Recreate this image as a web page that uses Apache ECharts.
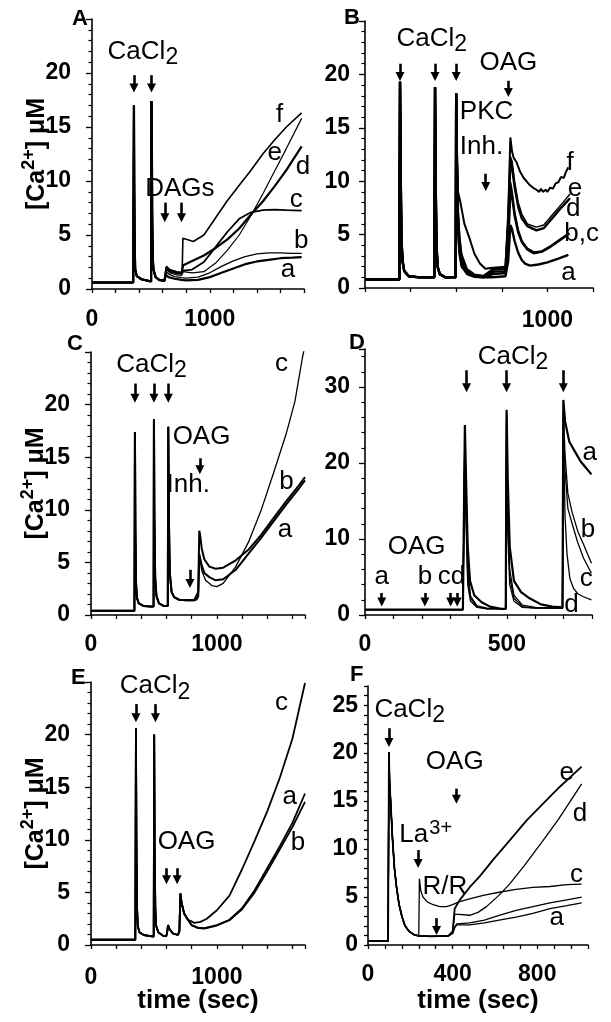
<!DOCTYPE html>
<html><head><meta charset="utf-8">
<script src="https://cdn.jsdelivr.net/npm/echarts@6/dist/echarts.min.js"></script>
<style>html,body{margin:0;padding:0;background:#fff;}#c{width:611px;height:1022px;}</style>
</head><body><div id="c"></div>
<script>
const FONT = '"Liberation Sans", Arial, Helvetica, sans-serif';

// ---------- Panel A ----------
const xLabelsA = [0, 1000];
const yLabelsA = [0, 5, 10, 15, 20];
const prefixA = [[0,0.6],[350,0.6],[354,0.7],[356,17.0],[359,9.0],[362,4.0],[367,1.8],[380,1.2],[420,0.9],[480,0.75],[502,0.7],[505,17.4],[508,14.0],[511,7.0],[515,3.0],[522,1.8],[540,1.1],[570,0.85],[615,0.75]];
const A_a = [[628,1.3],[650,1.1],[700,0.95],[760,0.85],[800,0.8],[900,0.85],[1000,1.1],[1100,1.5],[1200,1.9],[1300,2.3],[1400,2.55],[1500,2.7],[1600,2.85],[1700,2.9],[1780,2.95]];
const A_b = [[630,1.6],[650,1.4],[700,1.15],[760,1.05],[800,1.0],[900,1.1],[1000,1.5],[1100,2.1],[1200,2.6],[1300,3.0],[1400,3.25],[1500,3.35],[1600,3.35],[1700,3.3],[1780,3.3]];
const A_c = [[632,1.9],[660,1.6],[720,1.45],[760,1.4],[775,1.7],[850,1.8],[950,2.5],[1050,3.9],[1150,5.3],[1250,6.5],[1350,7.1],[1450,7.3],[1550,7.35],[1650,7.3],[1780,7.25]];
const A_d = [[632,2.0],[660,1.7],[720,1.55],[760,1.5],[775,2.2],[850,2.6],[950,3.1],[1050,3.8],[1150,4.6],[1250,5.6],[1350,6.9],[1450,8.1],[1550,9.5],[1650,11.0],[1780,13.2]];
const A_e = [[632,1.8],[660,1.5],[720,1.3],[760,1.25],[775,1.6],[850,1.5],[950,1.6],[1050,2.4],[1150,3.6],[1250,5.0],[1350,6.8],[1450,8.8],[1550,10.9],[1650,13.0],[1780,15.8]];
const A_f = [[632,2.1],[660,1.8],[720,1.6],[765,1.5],[772,4.7],[800,4.6],[860,4.4],[950,5.0],[1050,6.6],[1150,8.2],[1250,9.6],[1350,11.0],[1450,12.5],[1550,13.8],[1650,15.0],[1780,16.3]];
const textsA = [['CaCl{sub|2}',432,22.0],['DAGs',746,9.3],['f',1593,16.1],['e',1551,12.6],['d',1791,11.3],['c',1734,8.3],['b',1777,4.5],['a',1664,1.8]];
const arrowsA = [[356,19.8,18.6],[505,19.8,18.6],[618,8.0,6.6],[760,8.0,6.6]];

// ---------- Panel B ----------
const xLabelsB = [1000];
const yLabelsB = [0, 5, 10, 15, 20];
const prefixB = [[0,0.8],[188,0.8],[192,19.3],[196,10.0],[200,4.5],[206,2.5],[215,1.6],[240,1.1],[300,1.0],[380,1.0],[384,18.8],[388,9.0],[392,4.0],[398,2.0],[410,1.3],[440,1.0],[497,1.0],[500,18.2],[504,12.0]];
const B_a = [[510,5.5],[518,3.2],[530,2.0],[560,1.3],[600,1.05],[650,1.0],[700,1.0],[770,1.1],[785,2.5],[797,5.9],[806,5.5],[820,4.4],[840,3.3],[860,2.6],[880,2.25],[905,2.1],[950,2.2],[1000,2.4],[1060,2.75],[1115,3.1]];
const B_b = [[510,6.0],[518,3.5],[530,2.2],[560,1.4],[600,1.1],[650,1.0],[700,1.3],[770,1.4],[785,4.0],[797,9.3],[806,8.6],[820,6.8],[840,5.2],[860,4.3],[890,3.6],[925,3.25],[970,3.4],[1020,3.9],[1070,4.5],[1120,5.1]];
const B_c = [[510,6.5],[518,4.0],[530,2.5],[560,1.5],[600,1.2],[650,1.1],[700,1.5],[770,1.6],[785,4.5],[797,9.9],[806,9.0],[820,7.1],[840,5.4],[860,4.4],[890,3.7],[925,3.35],[970,3.45],[1020,3.95],[1070,4.55],[1120,5.15]];
const B_d = [[510,7.0],[518,4.5],[530,2.8],[560,1.6],[600,1.2],[650,1.1],[700,1.7],[770,1.8],[785,6.0],[797,12.0],[806,11.3],[820,9.5],[840,7.6],[860,6.5],[890,5.8],[940,5.4],[980,5.6],[1030,6.6],[1080,7.6],[1124,8.4]];
const B_e = [[510,7.5],[518,5.0],[530,3.2],[560,1.8],[600,1.3],[650,1.15],[700,1.8],[770,1.9],[785,6.5],[797,12.3],[806,11.9],[820,10.0],[840,8.0],[860,6.9],[890,6.0],[940,5.7],[980,5.9],[1030,6.9],[1080,7.9],[1124,8.8]];
const B_f = [[510,9.0],[521,8.2],[545,6.0],[576,4.5],[600,3.2],[630,2.3],[660,1.8],[700,1.9],[770,2.0],[785,7.0],[797,14.1],[806,12.8],[815,12.2],[830,11.8],[850,10.9],[870,10.3],[900,9.7],[920,9.4],[940,9.2],[955,9.0],[965,9.3],[975,9.0],[990,9.2],[1000,9.0],[1015,9.4],[1030,9.3],[1045,9.8],[1060,9.9],[1075,10.4],[1090,10.3],[1100,10.8],[1115,11.3]];
const textsB = [['CaCl{sub|2}',366,23.3],['OAG',786,21.1],['PKC\nInh.',517,14.9,'left'],['f',1124,11.7],['e',1151,9.3],['d',1142,7.4],['b,c',1188,5.1],['a',1115,1.4]];
const arrowsB = [[192,21.0,19.8],[384,21.0,19.8],[500,21.0,19.8],[786,19.4,18.3],[662,10.7,9.5]];

// ---------- Panel C ----------
const xLabelsC = [0, 1000];
const yLabelsC = [0, 5, 10, 15, 20];
const prefixC = [[0,0.4],[345,0.4],[349,17.4],[353,8.0],[358,3.0],[365,1.6],[380,1.1],[420,0.85],[470,0.8],[497,0.8],[500,18.6],[504,9.0],[510,3.5],[520,1.8],[540,1.1],[580,0.85],[610,0.85],[614,17.9],[619,9.0],[626,4.0],[640,2.2],[660,1.7],[700,1.45],[760,1.4],[820,1.4]];
const C_a = [[840,1.5],[852,1.8],[860,5.8],[866,5.9],[878,4.8],[900,4.0],[940,3.6],[990,3.3],[1050,3.4],[1150,4.3],[1250,5.8],[1350,7.3],[1450,8.9],[1550,10.5],[1650,12.0],[1700,12.8]];
const C_b = [[840,1.9],[852,2.2],[860,8.0],[866,7.7],[880,6.3],[900,5.3],[940,4.6],[990,4.4],[1050,4.5],[1150,5.2],[1250,6.2],[1350,7.6],[1450,9.2],[1550,10.8],[1650,12.3],[1700,13.1]];
const C_c = [[840,1.6],[852,2.0],[860,5.5],[868,5.2],[880,4.2],[910,3.3],[960,2.8],[1000,2.7],[1050,3.0],[1150,4.6],[1250,6.9],[1350,9.9],[1450,13.5],[1550,17.2],[1620,20.3],[1680,24.5],[1700,25.6]];
const textsC = [['CaCl{sub|2}',481,23.8],['OAG',878,16.9],['Inh.',772,12.4],['c',1513,23.9],['b',1553,12.7],['a',1540,8.1]];
const arrowsC = [[349,22.0,20.6],[500,22.0,20.6],[614,22.0,20.6],[865,14.9,13.8],[786,4.3,3.0]];

// ---------- Panel D ----------
const xLabelsD = [0, 500];
const yLabelsD = [0, 10, 20, 30];
const prefixD = [[0,0.7],[345,0.7],[348,0.8]];
const D_a = [[352,25.0],[356,18.0],[362,9.0],[370,4.5],[385,2.6],[410,1.7],[440,1.1],[480,0.8],[496,0.8],[499,27.0],[503,18.0],[510,9.0],[525,4.5],[550,3.0],[580,2.2],[620,1.4],[660,1.1],[696,1.0],[699,28.3],[705,25.5],[720,22.8],[740,21.5],[760,20.2],[780,19.3],[798,18.5]];
const D_b = [[352,24.5],[356,15.0],[362,6.0],[372,2.5],[395,1.2],[430,0.9],[496,0.8],[499,26.5],[503,14.0],[510,6.0],[525,2.6],[555,1.3],[600,1.0],[696,0.9],[699,27.0],[705,21.0],[715,16.0],[730,13.5],[750,11.0],[770,9.3],[798,6.8]];
const D_c = [[352,24.0],[356,14.0],[362,5.0],[372,2.2],[395,1.1],[430,0.8],[496,0.8],[499,26.0],[503,13.0],[510,5.0],[525,2.2],[555,1.1],[600,0.9],[696,0.9],[699,26.0],[705,19.0],[715,14.0],[730,12.0],[750,9.5],[770,7.5],[798,5.5]];
const D_d = [[352,23.0],[356,12.0],[362,4.0],[372,1.8],[395,1.0],[430,0.8],[496,0.8],[499,25.0],[503,11.0],[510,4.0],[525,1.8],[555,1.0],[600,0.9],[696,0.9],[699,24.0],[705,13.0],[712,8.0],[722,4.8],[735,3.5],[750,2.8],[770,2.4],[798,2.0]];
const textsD = [['CaCl{sub|2}',522,34.0],['OAG',182,9.0],['a',59,5.0],['b',211,5.0],['cd',305,5.0],['a',792,21.3],['b',786,11.2],['c',780,4.8],['d',728,1.3]];
const arrowsD = [[358,32.2,29.9],[499,32.2,29.9],[699,32.2,29.9],[59,2.9,1.7],[211,2.9,1.7],[302,2.9,1.7],[325,2.9,1.7]];

// ---------- Panel E ----------
const xLabelsE = [0, 1000];
const yLabelsE = [0, 5, 10, 15, 20];
const prefixE = [[0,0.5],[352,0.5],[357,20.6],[361,10.0],[366,3.5],[372,1.8],[385,1.2],[420,0.95],[470,0.85],[498,0.8],[502,20.0],[506,9.0],[511,3.5],[518,1.8],[535,1.2],[570,0.9],[598,0.85],[605,1.2],[612,1.9],[625,1.5],[650,1.1],[690,0.95],[702,1.3],[710,4.9],[720,4.0],[740,3.0],[770,2.4]];
const E_a = [[800,1.9],[850,1.65],[900,1.6],[1000,1.9],[1100,2.4],[1200,3.5],[1300,5.2],[1400,7.3],[1500,9.4],[1600,11.6],[1700,14.4]];
const E_b = [[800,1.85],[850,1.6],[900,1.55],[1000,1.85],[1100,2.35],[1200,3.4],[1300,5.0],[1400,7.0],[1500,9.1],[1600,11.2],[1700,13.6]];
const E_c = [[790,2.3],[820,2.1],[870,2.2],[920,2.5],[1000,3.3],[1100,4.7],[1200,7.2],[1300,9.9],[1400,12.7],[1500,15.9],[1600,19.6],[1700,24.9]];
const textsE = [['CaCl{sub|2}',508,24.6],['OAG',759,9.8],['c',1513,23.0],['a',1579,14.1],['b',1645,9.7]];
const arrowsE = [[357,22.9,21.6],[512,22.9,21.6],[600,7.3,6.2],[684,7.3,6.2]];

// ---------- Panel F ----------
const xLabelsF = [0, 400, 800];
const yLabelsF = [0, 5, 10, 15, 20, 25];
const prefixF = [[0,0.4],[95,0.4],[99,20.1],[102,17.0],[108,14.5],[116,11.0],[125,8.0],[135,6.0],[147,4.2],[160,3.0],[175,2.0],[195,1.4],[220,1.05],[240,0.95]];
const F_a = [[300,0.9],[380,0.95],[400,1.2],[410,1.8],[420,2.1],[480,2.1],[550,2.3],[620,2.6],[700,2.9],[780,3.3],[860,3.8],[940,4.1],[1010,4.4]];
const F_b = [[300,0.9],[380,0.95],[400,1.2],[410,1.9],[420,2.2],[480,2.3],[550,2.6],[620,3.1],[700,3.6],[780,4.0],[860,4.4],[940,4.7],[1010,5.0]];
const F_c = [[242,0.95],[243,6.9],[250,5.6],[260,5.0],[280,4.5],[308,4.2],[340,4.0],[371,4.0],[400,4.2],[430,4.5],[480,4.8],[550,5.2],[620,5.5],[700,5.8],[780,6.0],[860,6.1],[940,6.3],[1010,6.35]];
const F_d = [[300,0.9],[380,0.95],[400,1.4],[410,3.2],[430,3.2],[481,3.1],[520,3.4],[560,4.0],[620,5.2],[671,6.4],[740,8.3],[828,10.9],[900,13.1],[939,14.4],[1010,16.8]];
const F_e = [[300,0.9],[380,0.95],[400,1.4],[410,3.8],[434,4.7],[480,6.0],[530,7.2],[592,8.9],[670,10.9],[750,13.0],[830,14.8],[907,16.5],[1010,18.6]];
const textsF = [['CaCl{sub|2}',197,24.5],['OAG',410,19.1],['La',216,11.5],['3+',216,11.5,'sup'],['R/R',363,6.1],['e',939,17.9],['d',1002,13.7],['c',986,7.3],['b',1049,5.0],['a',892,2.8]];
const arrowsF = [[99,22.6,21.1],[418,16.3,15.2],[237,9.9,8.5],[324,2.8,1.5]];

const panels = [
  {id:'A', grid:{left:92,top:19,width:212,height:270}, xMax:1800, xInt:200, xLabels:xLabelsA, xMargin:19,
   yMax:25, yInt:5, yMinor:true, yLabels:yLabelsA, yMargin:21, yName:true, xName:false,
   lines:[[prefixA.concat(A_a),2.2],[prefixA.concat(A_b),1.3],[prefixA.concat(A_c),1.8],[prefixA.concat(A_d),2.2],[prefixA.concat(A_e),1.2],[prefixA.concat(A_f),1.6]],
   texts:textsA, arrows:arrowsA, letter:[80,21]},
  {id:'B', grid:{left:365,top:21,width:228,height:267}, xMax:1250, xInt:250, xLabels:xLabelsB, xMargin:21,
   yMax:25, yInt:5, yMinor:true, yLabels:yLabelsB, yMargin:15, yName:false, xName:false,
   lines:[[prefixB.concat(B_a),2.4],[prefixB.concat(B_b),2.4],[prefixB.concat(B_c),2],[prefixB.concat(B_d),2.4],[prefixB.concat(B_e),1.5],[prefixB.concat(B_f),2]],
   texts:textsB, arrows:arrowsB, letter:[352,20]},
  {id:'C', grid:{left:91,top:352,width:214,height:263}, xMax:1700, xInt:200, xLabels:xLabelsC, xMargin:18,
   yMax:25, yInt:5, yMinor:true, yLabels:yLabelsC, yMargin:21, yName:true, xName:false,
   lines:[[prefixC.concat(C_a),2],[prefixC.concat(C_b),2],[prefixC.concat(C_c),1.3]],
   texts:textsC, arrows:arrowsC, letter:[75,346]},
  {id:'D', grid:{left:365,top:349,width:227,height:266}, xMax:800, xInt:100, xLabels:xLabelsD, xMargin:18,
   yMax:35, yInt:10, yMinor:true, yLabels:yLabelsD, yMargin:15, yName:false, xName:false,
   lines:[[prefixD.concat(D_a),2.2],[prefixD.concat(D_b),1.3],[prefixD.concat(D_c),1.3],[prefixD.concat(D_d),1.3]],
   texts:textsD, arrows:arrowsD, letter:[357,345]},
  {id:'E', grid:{left:91,top:682,width:214,height:263}, xMax:1700, xInt:200, xLabels:xLabelsE, xMargin:21,
   yMax:25, yInt:5, yMinor:true, yLabels:yLabelsE, yMargin:21, yName:true, xName:true,
   lines:[[prefixE.concat(E_a),1.8],[prefixE.concat(E_b),1.8],[prefixE.concat(E_c),1.8]],
   texts:textsE, arrows:arrowsE, letter:[79,680]},
  {id:'F', grid:{left:368,top:686,width:220,height:259}, xMax:1040, xInt:80, xLabels:xLabelsF, xMargin:18,
   yMax:27, yInt:1, yMinor:false, yLabels:yLabelsF, yMargin:10, yName:false, xName:true,
   lines:[[prefixF.concat(F_a),1.3],[prefixF.concat(F_b),1.3],[prefixF.concat(F_c),1.3],[prefixF.concat(F_d),1.3],[prefixF.concat(F_e),1.8]],
   texts:textsF, arrows:arrowsF, letter:[358,677]}
];

const tickFont = {color:'#000', fontSize:23, fontWeight:'bold', fontFamily:FONT};
const option = {animation:false, backgroundColor:'#fff', title:[], grid:[], xAxis:[], yAxis:[], series:[]};

panels.forEach((p, i) => {
  option.grid.push(Object.assign({containLabel:false, outerBoundsMode:'none'}, p.grid));
  option.xAxis.push({
    type:'value', gridIndex:i, min:0, max:p.xMax, interval:p.xInt,
    axisLine:{show:true, onZero:false, lineStyle:{color:'#000', width:1.6}},
    axisTick:{show:true, inside:false, length:4, lineStyle:{color:'#000', width:1.3}},
    splitLine:{show:false},
    axisLabel:Object.assign({show:true, margin:p.xMargin, hideOverlap:false, showMinLabel:true, showMaxLabel:true,
      formatter:(v) => p.xLabels.indexOf(Math.round(v)) >= 0 ? String(Math.round(v)) : ''}, tickFont),
    name: p.xName ? 'time (sec)' : '', nameLocation:'middle', nameGap:43, nameMoveOverlap:false,
    nameTextStyle:{color:'#000', fontSize:26, fontWeight:'bold', fontFamily:FONT}
  });
  option.yAxis.push({
    type:'value', gridIndex:i, min:0, max:p.yMax, interval:p.yInt,
    axisLine:{show:true, onZero:false, lineStyle:{color:'#000', width:1.6}},
    axisTick:{show:true, inside:false, length:p.yMinor ? 6 : 4, lineStyle:{color:'#000', width:1.3}},
    minorTick:{show:p.yMinor, splitNumber:5, length:3.5, lineStyle:{color:'#000', width:1.2}},
    splitLine:{show:false}, minorSplitLine:{show:false},
    axisLabel:Object.assign({show:true, margin:p.yMargin, hideOverlap:false, showMinLabel:true, showMaxLabel:true,
      formatter:(v) => p.yLabels.indexOf(Math.round(v)) >= 0 && Math.abs(v - Math.round(v)) < 1e-6 ? String(Math.round(v)) : ''}, tickFont),
    name: p.yName ? '[Ca{sup|2+}] \u03BCM' : '', nameLocation:'middle', nameRotate:90, nameGap:38, nameMoveOverlap:false,
    nameTextStyle:{color:'#000', fontSize:25, fontWeight:'bold', fontFamily:FONT,
      rich:{sup:{fontSize:18, fontWeight:'bold', fontFamily:FONT, color:'#000', padding:[0,0,16,0]}}}
  });
  option.title.push({text:p.id, left:p.letter[0] - 8, top:p.letter[1] - 13, padding:0, itemGap:0,
    textStyle:{fontSize:22, fontWeight:'bold', fontFamily:FONT, color:'#000'}});
  p.lines.forEach((ln, k) => {
    const s = {type:'line', xAxisIndex:i, yAxisIndex:i, data:ln[0], symbol:'none', showSymbol:false,
      lineStyle:{color:'#000', width:ln[1]}, itemStyle:{color:'#000'}, silent:true, animation:false, clip:true, z:2};
    if (k === 0) {
      s.markLine = {silent:true, animation:false, symbol:['none','triangle'], symbolSize:9,
        lineStyle:{color:'#000', width:2.6, type:'solid'}, itemStyle:{color:'#000'}, label:{show:false},
        emphasis:{disabled:true},
        data:p.arrows.map(a => [{coord:[a[0], a[1]]}, {coord:[a[0], a[2]]}])};
      s.markPoint = {silent:true, animation:false, symbol:'circle', symbolSize:1, itemStyle:{color:'rgba(0,0,0,0)'},
        label:{show:true, position:'inside', color:'#000', fontSize:26, fontFamily:FONT, fontWeight:'normal',
          rich:{sub:{fontSize:23, fontFamily:FONT, color:'#000', padding:[12,0,0,0]}}},
        data:p.texts.map(t => {
          const lab = {formatter:t[0]};
          if (t[3] === 'left') { lab.position = 'right'; lab.distance = 0; lab.align = 'left'; lab.lineHeight = 35; }
          if (t[3] === 'sup') { lab.fontSize = 20; lab.offset = [27, -6]; }
          return {coord:[t[1], t[2]], value:0, label:lab};
        })};
    }
    option.series.push(s);
  });
});

const chart = echarts.init(document.getElementById('c'), null, {renderer:'canvas', width:611, height:1022});
chart.setOption(option);
</script></body></html>
